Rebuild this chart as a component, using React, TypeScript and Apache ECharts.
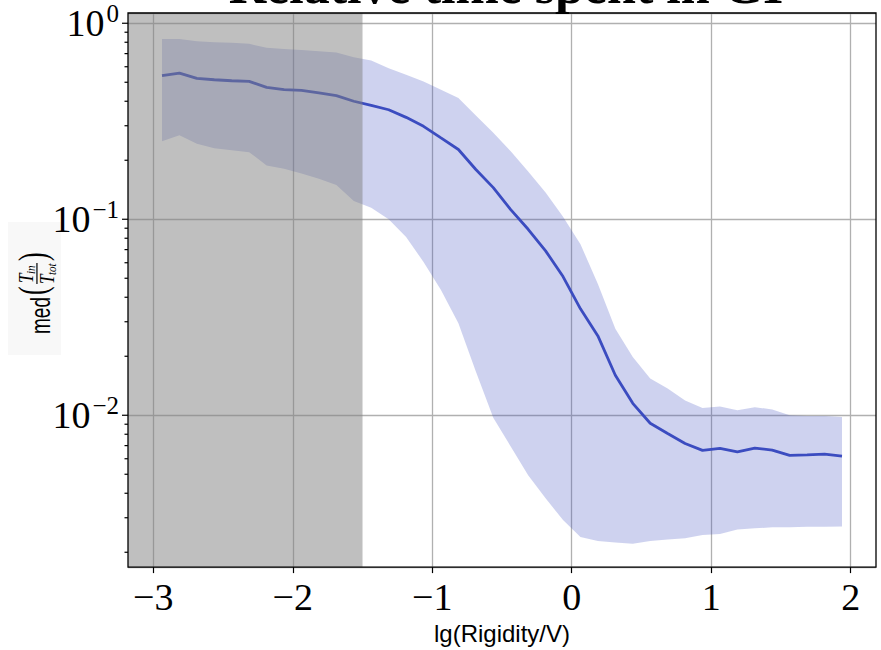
import React, { useEffect, useRef } from 'react';
import * as echarts from 'echarts';

// ---- data ----------------------------------------------------------------
const TITLE = 'Relative time spent in GI';
const X_NAME = 'lg(Rigidity/V)';

// bin centres of lg(Rigidity/V)
const LG_RIGIDITY = [
  -2.9375, -2.8125, -2.6875, -2.5625, -2.4375, -2.3125, -2.1875, -2.0625,
  -1.9375, -1.8125, -1.6875, -1.5625, -1.4375, -1.3125, -1.1875, -1.0625,
  -0.9375, -0.8125, -0.6875, -0.5625, -0.4375, -0.3125, -0.1875, -0.0625,
  0.0625, 0.1875, 0.3125, 0.4375, 0.5625, 0.6875, 0.8125, 0.9375,
  1.0625, 1.1875, 1.3125, 1.4375, 1.5625, 1.6875, 1.8125, 1.9375,
];

// median of T_in / T_tot per bin
const MEDIAN = [
  0.54, 0.557, 0.523, 0.515, 0.509, 0.505, 0.471, 0.458,
  0.454, 0.441, 0.427, 0.4, 0.381, 0.362, 0.331, 0.298,
  0.26, 0.227, 0.1795, 0.145, 0.112, 0.0889, 0.069, 0.051,
  0.0349, 0.0254, 0.016, 0.0115, 0.0091, 0.00807, 0.00718, 0.00662,
  0.00677, 0.0065, 0.0068, 0.00664, 0.00624, 0.00628, 0.00633, 0.00619,
];

// upper / lower quantile envelope
const UPPER = [
  0.83, 0.83, 0.81, 0.8, 0.795, 0.785, 0.75, 0.74,
  0.73, 0.72, 0.71, 0.67, 0.645, 0.59, 0.546, 0.505,
  0.458, 0.416, 0.338, 0.276, 0.222, 0.175, 0.137, 0.103,
  0.0746, 0.0467, 0.0276, 0.0198, 0.0154, 0.0137, 0.0119, 0.0109,
  0.0111, 0.0106, 0.011, 0.0107, 0.01, 0.0099, 0.0099, 0.0098,
];
const LOWER = [
  0.25, 0.268, 0.243, 0.23, 0.225, 0.22, 0.188, 0.181,
  0.171, 0.161, 0.1495, 0.124, 0.1146, 0.1, 0.0813, 0.0605,
  0.0435, 0.0295, 0.0167, 0.0097, 0.00693, 0.00494, 0.00377, 0.00292,
  0.00239, 0.00228, 0.00224, 0.00221, 0.00228, 0.00232, 0.00236, 0.00245,
  0.00248, 0.00261, 0.00265, 0.00268, 0.00268, 0.0027, 0.0027, 0.00271,
];

const X_TICKS = [-3, -2, -1, 0, 1, 2];
const Y_MAJOR = [0.01, 0.1, 1];
const Y_MINOR = [
  0.002, 0.003, 0.004, 0.005, 0.006, 0.007, 0.008, 0.009,
  0.02, 0.03, 0.04, 0.05, 0.06, 0.07, 0.08, 0.09,
  0.2, 0.3, 0.4, 0.5, 0.6, 0.7, 0.8, 0.9,
];
const X_RANGE = [-3.18125, 2.18125];
const Y_RANGE = [0.00168, 1.128];
const SHADED_UNTIL = -1.5;

// ---- styling -------------------------------------------------------------
const BLUE = '#3b4cc0';
const BAND = 'rgba(59,76,192,0.25)';
const SHADE = 'rgba(128,128,128,0.5)';
const GRID_LINE = '#b0b0b0';
const SERIF = '"Liberation Serif", "DejaVu Serif", serif';
const SANS = '"Liberation Sans", "DejaVu Sans", sans-serif';

const minus = (v: number) => (v < 0 ? '\u2212' + -v : String(v));

const powLabel = (v: number) => {
  const e = Math.log10(v);
  const n = Math.round(e);
  if (Math.abs(e - n) > 1e-6) return '';
  return `{b|10}{s|${minus(n)}}`;
};

const tickData = [
  ...Y_MAJOR.map((v) => [X_RANGE[0], v, 6]),
  ...Y_MINOR.map((v) => [X_RANGE[0], v, 3.5]),
];

const txt = (text: string, font: string, x: number, y: number, scaleY = 1) => ({
  type: 'text',
  x,
  y,
  scaleY,
  style: { text, font, fill: '#000', textAlign: 'left', textVerticalAlign: 'middle' },
});

// rotated y-axis title: med( T_in / T_tot )
const yTitle = {
  type: 'group',
  x: 35,
  y: 288,
  rotation: Math.PI / 2,
  scaleY: 1.5,
  children: [
    { type: 'rect', shape: { x: -67, y: -18, width: 133, height: 35.3 }, style: { fill: '#f8f8f8' } },
    txt('med', `19px ${SANS}`, -46, 3.4),
    txt('(', `26px ${SERIF}`, -7, -1.4),
    txt('T', `italic 17px ${SERIF}`, 5, -6.1, 0.8),
    txt('in', `italic 11px ${SERIF}`, 14, -2.7, 0.8),
    { type: 'line', shape: { x1: 4, y1: 1.3, x2: 25, y2: 1.3 }, style: { stroke: '#000', lineWidth: 0.8 } },
    txt('T', `italic 17px ${SERIF}`, 4, 7.7, 0.8),
    txt('tot', `italic 11px ${SERIF}`, 13, 10.8, 0.8),
    txt(')', `26px ${SERIF}`, 27, -1.4),
  ],
};

const option = {
  animation: false,
  backgroundColor: '#ffffff',
  grid: {
    left: 128,
    right: 5,
    top: 13,
    bottom: 81,
    show: true,
    borderColor: '#000',
    borderWidth: 1.3,
    backgroundColor: 'transparent',
    z: 20,
  },
  xAxis: {
    type: 'value',
    min: X_RANGE[0],
    max: X_RANGE[1],
    axisLine: { show: false },
    axisTick: { show: true, customValues: X_TICKS, length: 6, lineStyle: { color: '#000', width: 1.2 } },
    axisLabel: {
      customValues: X_TICKS,
      margin: 11,
      formatter: (v: number) => minus(v),
      fontFamily: SERIF,
      fontSize: 38,
      color: '#000',
    },
    splitLine: { show: true, lineStyle: { color: GRID_LINE, width: 1.3 } },
    name: X_NAME,
    nameLocation: 'middle',
    nameGap: 52,
    nameTextStyle: { fontFamily: SANS, fontSize: 24, color: '#000' },
  },
  yAxis: {
    type: 'log',
    logBase: 10,
    min: Y_RANGE[0],
    max: Y_RANGE[1],
    axisLine: { show: false },
    axisTick: { show: false },
    axisLabel: {
      margin: 9,
      formatter: powLabel,
      color: '#000',
      rich: {
        b: { fontFamily: SERIF, fontSize: 38, lineHeight: 44, color: '#000' },
        s: { fontFamily: SERIF, fontSize: 25, lineHeight: 26, verticalAlign: 'top', padding: [0, 0, 0, 2], color: '#000' },
      },
    },
    splitLine: { show: true, lineStyle: { color: GRID_LINE, width: 1.3 } },
  },
  graphic: [
    {
      type: 'text',
      x: 506,
      y: -15,
      z: 100,
      style: { text: TITLE, font: `bold 52px ${SERIF}`, fill: '#000', textAlign: 'center', textVerticalAlign: 'middle' },
    },
    yTitle,
  ],
  series: [
    {
      // quantile band
      type: 'custom',
      silent: true,
      z: 2,
      data: [[LG_RIGIDITY[0], MEDIAN[0]]],
      renderItem: (_p: any, api: any) => {
        const pts: number[][] = [];
        LG_RIGIDITY.forEach((x, i) => pts.push(api.coord([x, UPPER[i]])));
        for (let i = LG_RIGIDITY.length - 1; i >= 0; i--) pts.push(api.coord([LG_RIGIDITY[i], LOWER[i]]));
        return { type: 'polygon', shape: { points: pts }, style: { fill: BAND } };
      },
    },
    {
      type: 'line',
      z: 3,
      silent: true,
      showSymbol: false,
      data: LG_RIGIDITY.map((x, i) => [x, MEDIAN[i]]),
      lineStyle: { color: BLUE, width: 2.8 },
      itemStyle: { color: BLUE },
    },
    {
      // shaded low-rigidity region
      type: 'custom',
      silent: true,
      z: 10,
      data: [[X_RANGE[0], Y_RANGE[1]]],
      renderItem: (_p: any, api: any) => {
        const a = api.coord([X_RANGE[0], Y_RANGE[1]]);
        const b = api.coord([SHADED_UNTIL, Y_RANGE[0]]);
        return { type: 'rect', shape: { x: a[0], y: a[1], width: b[0] - a[0], height: b[1] - a[1] }, style: { fill: SHADE } };
      },
    },
    {
      // log-axis major and minor ticks
      type: 'custom',
      silent: true,
      clip: false,
      z: 21,
      data: tickData,
      encode: { x: 0, y: 1 },
      renderItem: (_p: any, api: any) => {
        const p = api.coord([api.value(0), api.value(1)]);
        const len = api.value(2);
        return {
          type: 'line',
          shape: { x1: p[0] - len, y1: p[1], x2: p[0], y2: p[1] },
          style: { stroke: '#000', lineWidth: 1.2 },
        };
      },
    },
  ],
};

export default function App() {
  const ref = useRef<HTMLDivElement>(null);
  useEffect(() => {
    const chart = echarts.init(ref.current!, null, { renderer: 'svg' });
    chart.setOption(option as any);
    return () => chart.dispose();
  }, []);
  return (
    <div
      ref={ref}
      style={{ position: 'absolute', left: 0, top: 0, width: 881, height: 650, background: '#fff' }}
    />
  );
}
